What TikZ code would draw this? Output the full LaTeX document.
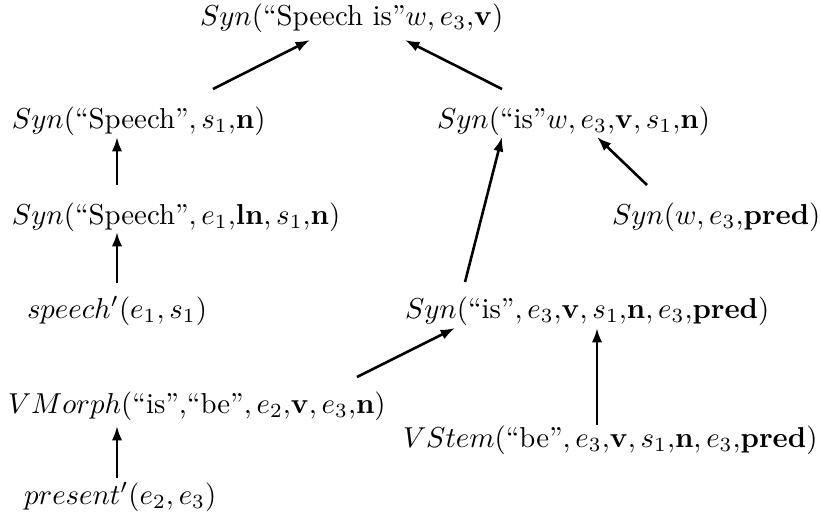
\documentclass[tikz,border=0pt]{standalone}
\usetikzlibrary{arrows.meta,calc}
\begin{document}
\begin{tikzpicture}[x=0.347pt,y=-0.347pt,
  lbl/.style={anchor=base west,inner sep=0pt,outer sep=0pt},
  arr/.style={line width=0.9pt,-{Latex[length=5pt,width=3.6pt]}}]
\useasboundingbox (0,0) rectangle (821,520);
\node[lbl] (top) at (200,25) {$Syn(\mbox{``Speech is''}w, e_3{,}\mathbf{v})$};
\node[lbl] (sL) at (12,128) {$Syn(\mbox{``Speech''}, s_1{,}\mathbf{n})$};
\node[lbl] (isw) at (437,128) {$Syn(\mbox{``is''}w, e_3{,}\mathbf{v}, s_1{,}\mathbf{n})$};
\node[lbl] (sE) at (12,224) {$Syn(\mbox{``Speech''}, e_1{,}\mathbf{ln}, s_1{,}\mathbf{n})$};
\node[lbl] (w) at (612,224) {$Syn(w, e_3{,}\mathbf{pred})$};
\node[lbl] (sp) at (27,318) {$speech'(e_1, s_1)$};
\node[lbl] (isp) at (405,318) {$Syn(\mbox{``is''}, e_3{,}\mathbf{v}, s_1{,}\mathbf{n}, e_3{,}\mathbf{pred})$};
\node[lbl] (vm) at (8,413) {$VMorph(\mbox{``is'',``be''}, e_2{,}\mathbf{v}, e_3{,}\mathbf{n})$};
\node[lbl] (vs) at (403,447) {$VStem(\mbox{``be''}, e_3{,}\mathbf{v}, s_1{,}\mathbf{n}, e_3{,}\mathbf{pred})$};
\node[lbl] (pr) at (24,504) {$present'(e_2, e_3)$};
% arrows
\draw[arr] ($(sL.base west)+(201,-39)$) -- ($(top.base west)+(110,15)$);
\draw[arr] ($(isw.base west)+(65,-39)$) -- ($(top.base west)+(205,15)$);
\draw[arr] ($(sE.base west)+(105,-39)$) -- ($(sL.base west)+(105,9)$);
\draw[arr] ($(sp.base west)+(90,-35)$) -- ($(sE.base west)+(105,8)$);
\draw[arr] ($(isp.base west)+(60,-36)$) -- ($(isw.base west)+(65,9)$);
\draw[arr] ($(w.base west)+(35,-39)$) -- ($(isw.base west)+(160,9)$);
\draw[arr] ($(vm.base west)+(349,-36)$) -- ($(isp.base west)+(50,10)$);
\draw[arr] ($(vs.base west)+(194,-22)$) -- ($(isp.base west)+(192,10)$);
\draw[arr] ($(pr.base west)+(93,-26)$) -- ($(vm.base west)+(109,13)$);
\end{tikzpicture}
\end{document}
